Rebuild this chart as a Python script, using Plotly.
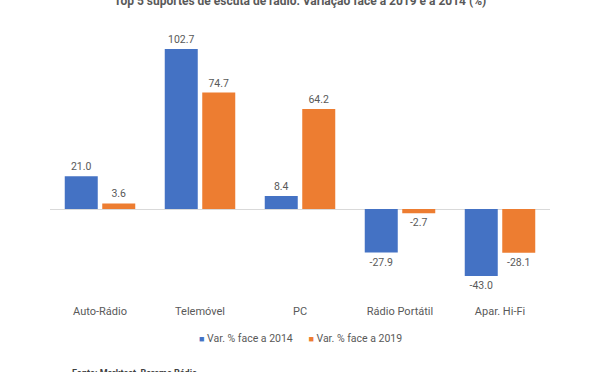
import plotly.graph_objects as go

categories = ["Auto-Rádio", "Telemóvel", "PC", "Rádio Portátil", "Apar. Hi-Fi"]
var_2014 = [21.0, 102.7, 8.4, -27.9, -43.0]
var_2019 = [3.6, 74.7, 64.2, -2.7, -28.1]
series_names = ["Var. % face a 2014", "Var. % face a 2019"]
title_text = "Top 5 suportes de escuta de rádio: Variação face a 2019 e a 2014 (%)"
source_text = "Fonte: Marktest, Bareme Rádio"

BLUE = "#4472C4"
ORANGE = "#ED7D31"
TXT = "#595959"
FONT = "Roboto"

fig = go.Figure()
for name, vals, col in [(series_names[0], var_2014, BLUE), (series_names[1], var_2019, ORANGE)]:
    fig.add_trace(go.Bar(
        x=categories, y=vals, name=name,
        marker=dict(color=col, line=dict(width=0)),
        text=[f"{v:.1f}" for v in vals],
        textposition="outside",
        textfont=dict(color=TXT, size=10.5, family=FONT),
        cliponaxis=False,
        showlegend=False,
    ))

sq = "<span style='color:{c};font-size:9px'>■</span>"
legend_html = (
    sq.format(c=BLUE) + "&nbsp;" + series_names[0] + "&nbsp;" * 6
    + sq.format(c=ORANGE) + "&nbsp;" + series_names[1]
)

fig.update_layout(
    width=600, height=372,
    margin=dict(l=50, r=50, t=20, b=69),
    paper_bgcolor="white", plot_bgcolor="white",
    barmode="group", bargap=0.25, bargroupgap=0.12,
    font=dict(family=FONT, color=TXT, size=11),
    showlegend=False,
    xaxis=dict(showgrid=False, showline=False, ticks="", tickfont=dict(size=11, color=TXT)),
    yaxis=dict(range=[-60.3, 121.3], showgrid=False, showticklabels=False, zeroline=True,
               zerolinecolor="#D9D9D9", zerolinewidth=1, showline=False),
    annotations=[
        dict(text=f"<b>{title_text}</b>", xref="paper", yref="paper", x=0.5, y=1.068,
             xanchor="center", yanchor="middle", showarrow=False,
             font=dict(size=12, color=TXT, family=FONT)),
        dict(text=legend_html, xref="paper", yref="paper", x=0.5, y=-0.124,
             xanchor="center", yanchor="middle", showarrow=False,
             font=dict(size=10.5, color=TXT, family=FONT)),
        dict(text=f"<b>{source_text}</b>", xref="paper", yref="paper", x=0.04, y=-0.249,
             xanchor="left", yanchor="middle", showarrow=False,
             font=dict(size=9, color="#404040", family=FONT)),
    ],
)

fig.write_html("out.html", config={"displayModeBar": False},
               post_script="document.body.style.margin='0';")
